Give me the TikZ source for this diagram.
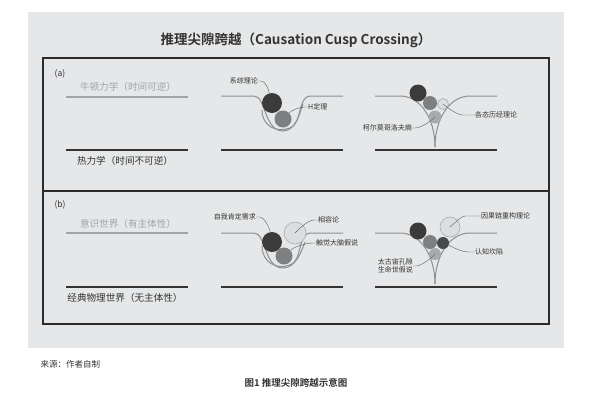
\documentclass[tikz,border=0pt]{standalone}
\usepackage{fontspec}
\setmainfont{Noto Sans CJK SC}[BoldFont={Noto Sans CJK SC Bold}]
\usetikzlibrary{positioning}
\definecolor{paper}{HTML}{E6E7E8}
\definecolor{frame}{HTML}{2B2B2B}
\definecolor{ink}{HTML}{333333}
\definecolor{faint}{HTML}{A3A4A6}
\definecolor{wellc}{HTML}{8E8F91}
\definecolor{ballA}{HTML}{3B3B3C}
\definecolor{ballB}{HTML}{7E7F81}
\definecolor{ballC}{HTML}{DCDDDE}
\definecolor{ballD}{HTML}{A9AAAC}
\tikzset{
  panel/.style={draw=frame,line width=1.6pt},
  upper/.style={draw=faint,line width=1.3pt},
  lower/.style={draw=ink,line width=1.6pt},
  well/.style={draw=wellc,line width=1pt},
  lead/.style={draw=ink!80,line width=0.4pt},
  ball/.style={circle,inner sep=0pt,minimum size=#1},
  ballk/.style={ball=#1,fill=ballA},
  ballg/.style={ball=#1,fill=ballB},
  balll/.style={ball=#1,fill=ballC,draw=ballD,line width=0.6pt},
  ballm/.style={ball=#1,fill=ballD},
  tag/.style={font=\fontsize{7}{8}\selectfont,text=ink,inner sep=0pt,align=left},
  lvltxt/.style={font=\fontsize{9.6}{11}\selectfont,inner sep=0pt},
  sub/.style={font=\fontsize{8.5}{10}\selectfont,text=ink,inner sep=0pt},
}
\begin{document}
\begin{tikzpicture}[x=1pt,y=-1pt]
  \useasboundingbox (0,0) rectangle (600,400);
  \fill[paper] (28,12) rectangle (564,348);
  \node[font=\bfseries\fontsize{13.5}{15}\selectfont,text=ink] (title) at (296,40)
    {推理尖隙跨越（Causation Cusp Crossing）};
  \draw[panel] (43,58) rectangle (549,191);
  \draw[panel] (43,191) rectangle (549,324);
  \node[sub] (pa) at (60,74) {(a)};
  \node[sub] (pb) at (60,205) {(b)};
  % --- (a) levels
  \draw[upper] (66,97) -- (188,97);
  \draw[lower] (66,150) -- (188,150);
  \node[lvltxt,text=faint] (newton) at (128,87) {牛顿力学（时间可逆）};
  \node[lvltxt,text=ink] (thermo) at (125,161) {热力学（时间不可逆）};
  % --- (a) shallow well
  \draw[well] (221,96) -- (254,96) .. controls (266,96) and (264,131) .. (283,131)
    .. controls (296,131) and (300,112) .. (303,104);
  \draw[well] (343,96) -- (310,96) .. controls (298,96) and (302,124) .. (290,128)
    .. controls (276,133) and (262,126) .. (262,110);
  \draw[lower] (221,150) -- (343,150);
  \node[ballk=20pt] (a1) at (272,103) {};
  \node[ballg=17pt] (a2) at (283,119) {};
  \node[tag,anchor=east] (la1) at (258,81) {系综理论};
  \node[tag,anchor=west] (la2) at (308,107) {H定理};
  \draw[lead] (la1.east) -- +(3,0) .. controls +(4,0) and +(-1,-5) .. (a1.105);
  \draw[lead] (la2.west) -- +(-3,0) .. controls +(-5,0) and +(3,-3) .. (a2.45);
  % --- (a) cusp
  \draw[well] (375,96) -- (400,96) .. controls (420,96) and (435,118) .. (435,147);
  \draw[well] (497,96) -- (470,96) .. controls (450,96) and (435,118) .. (435,147);
  \draw[lower] (375,150) -- (497,150);
  \node[ballk=17pt] (a3) at (418,93) {};
  \node[ballg=14pt] (a4) at (430,103) {};
  \node[balll=11pt] (a5) at (443,104) {};
  \node[ballm=13pt] (a6) at (435,117) {};
  \node[tag,anchor=west] (la5) at (475,115) {各态历经理论};
  \node[tag,anchor=east] (la6) at (412,128) {柯尔莫哥洛夫熵};
  \draw[lead] (la5.west) -- +(-12,0) .. controls +(-6,0) and +(5,4) .. (a5.center);
  \draw[lead] (la6.east) -- +(3,0) .. controls +(6,0) and +(-4,4) .. (a6.center);
  % --- (b) levels
  \draw[upper] (66,233) -- (188,233);
  \draw[lower] (66,287) -- (188,287);
  \node[lvltxt,text=faint] (mind) at (128,224) {意识世界（有主体性）};
  \node[lvltxt,text=ink] (phys) at (125,298) {经典物理世界（无主体性）};
  % --- (b) shallow well
  \draw[well] (221,233) -- (254,233) .. controls (266,233) and (264,268) .. (283,268)
    .. controls (296,268) and (302,250) .. (305,242);
  \draw[well] (343,233) -- (310,233) .. controls (298,233) and (302,262) .. (290,265)
    .. controls (276,270) and (262,262) .. (262,246);
  \draw[lower] (221,287) -- (343,287);
  \node[ballk=20pt] (b1) at (272,242) {};
  \node[balll=22pt] (b2) at (295,233) {};
  \node[ballg=17pt] (b3) at (284,256) {};
  \node[tag,anchor=east] (lb1) at (256,217) {自我肯定需求};
  \node[tag,anchor=west] (lb2) at (318,220) {相容论};
  \node[tag,anchor=west] (lb3) at (316,243) {触觉大脑假说};
  \draw[lead] (lb1.east) -- +(4,0) .. controls +(4,0) and +(-1,-5) .. (b1.100);
  \draw[lead] (lb2.west) -- +(-4,0) .. controls +(-6,0) and +(4,-4) .. (b2.center);
  \draw[lead] (lb3.west) -- +(-3,0) .. controls +(-6,0) and +(3,-4) .. (b3.40);
  % --- (b) cusp
  \draw[well] (375,233) -- (400,233) .. controls (420,233) and (435,255) .. (435,284);
  \draw[well] (497,233) -- (470,233) .. controls (450,233) and (435,255) .. (435,284);
  \draw[lower] (375,287) -- (497,287);
  \node[ballk=17pt] (b4) at (418,231) {};
  \node[balll=20pt] (b5) at (450,227) {};
  \node[ballg=14pt] (b6) at (430,242) {};
  \node[ballk=12pt,fill=ballA!80!ballB] (b7) at (443,243) {};
  \node[ballm=12pt] (b8) at (435,254) {};
  \node[tag,anchor=west] (lb5) at (481,216) {因果链重构理论};
  \node[tag,anchor=west] (lb7) at (475,252) {认知坎陷};
  \node[tag,anchor=east] (lb8) at (413,266) {太古宙孔隙\\生命世假说};
  \draw[lead] (lb5.west) -- +(-16,0) .. controls +(-4,0) and +(4,-3) .. (b5.center);
  \draw[lead] (lb7.west) -- +(-6,0) .. controls +(-8,0) and +(4,2) .. (b7.-20);
  \draw[lead] (lb8.east) -- +(3,0) .. controls +(5,0) and +(-3,4) .. (b8.center);
  % --- caption
  \node[font=\fontsize{8.5}{9}\selectfont,text=ink,anchor=west] (src) at (37,364) {来源：作者自制};
  \node[font=\bfseries\fontsize{9.5}{10}\selectfont,text=ink] (cap) at (296,383) {图1\ 推理尖隙跨越示意图};
\end{tikzpicture}
\end{document}
